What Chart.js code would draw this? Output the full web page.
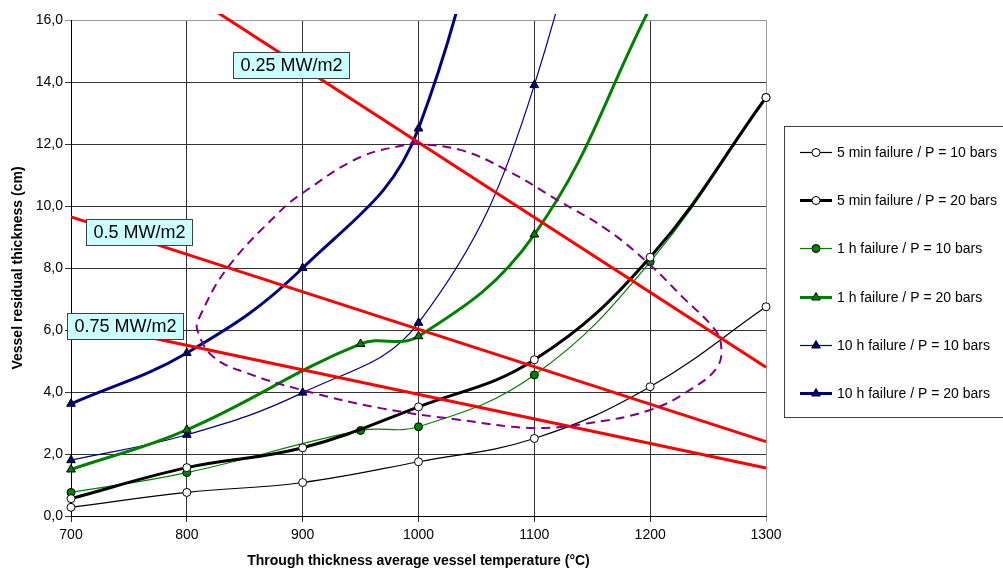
<!DOCTYPE html>
<html>
<head>
<meta charset="utf-8">
<script src="https://cdn.jsdelivr.net/npm/chart.js@4.4.1/dist/chart.umd.min.js"></script>
<style>
  body { margin: 0; background: #fff; }
  #wrap { width: 1003px; height: 572px; }
</style>
</head>
<body>
<div id="wrap"><canvas id="failure-chart" width="1003" height="572"></canvas></div>
<script>
// temperatures (°C)
const temps = [700, 800, 900, 1000, 1100, 1200, 1300]
const tempsOneHour = [700, 800, 950, 1000, 1100, 1200, 1300]

// residual thickness (cm) - last values of the steep curves are off the chart
const fiveMin10 = [0.28, 0.76, 1.08, 1.75, 2.5, 4.17, 6.75]
const fiveMin20 = [0.56, 1.56, 2.2, 3.52, 5.04, 8.35, 13.5]
const oneHour10 = [0.76, 1.4, 2.76, 2.88, 4.55, 8.2, 13.5]
const oneHour20 = [1.5, 2.78, 5.55, 5.8, 9.08, 16.4]
const tenHour10 = [1.8, 2.62, 3.98, 6.23, 13.9, 30]
const tenHour20 = [3.62, 5.26, 8.0, 12.5, 28]

// heat flux lines
const fluxLabels = ['0.25 MW/m2', '0.5 MW/m2', '0.75 MW/m2']
const fluxTemps = [700, 1300]
const flux025 = [19.3, 4.8]
const flux05 = [9.65, 2.4]
const flux075 = [6.3, 1.55]
const fluxLabelX = [840, 713, 696.5]
const fluxLabelY = [14.97, 9.58, 6.55]

// dashed region outline
const regionX = [995, 1036, 1076, 1120, 1163, 1200, 1228, 1254, 1261, 1258, 1234, 1200, 1148, 1099, 1036, 967, 900, 852, 823, 809, 811, 835, 880, 900, 950, 995]
const regionY = [12.03, 11.81, 11.16, 10.19, 9.23, 8.1, 7.06, 6.1, 5.58, 4.81, 4.06, 3.42, 3.0, 2.84, 3.1, 3.48, 4.06, 4.61, 5.13, 6.0, 6.42, 8.0, 9.81, 10.42, 11.58, 12.03]

const toPoints = (xs, ys) => ys.map((y, i) => ({ x: xs[i], y }))

const FONT = "'Liberation Sans', Arial, sans-serif"
Chart.defaults.font.family = FONT
Chart.defaults.color = '#000'

const overflow = { left: 8, top: 6, right: 8, bottom: 8 }

function failureSet(label, xs, ys, color, width, style, fill) {
  return {
    label,
    data: toPoints(xs, ys),
    borderColor: color,
    borderWidth: width,
    pointStyle: style,
    pointRadius: style === 'triangle' ? 5 : 4,
    pointBackgroundColor: fill,
    pointBorderColor: '#000',
    pointBorderWidth: 1,
    tension: 0.4,
    clip: overflow,
    order: 2
  }
}

const failureSets = [
  failureSet('5 min failure / P = 10 bars', temps, fiveMin10, '#000', 1.2, 'circle', '#fff'),
  failureSet('5 min failure / P = 20 bars', temps, fiveMin20, '#000', 3, 'circle', '#fff'),
  failureSet('1 h failure / P = 10 bars', tempsOneHour, oneHour10, '#008000', 1.2, 'circle', '#008000'),
  failureSet('1 h failure / P = 20 bars', tempsOneHour, oneHour20, '#008000', 3, 'triangle', '#008000'),
  failureSet('10 h failure / P = 10 bars', temps, tenHour10, '#000080', 1.2, 'triangle', '#000080'),
  failureSet('10 h failure / P = 20 bars', temps, tenHour20, '#000080', 3, 'triangle', '#000080')
]

const fluxSets = [flux025, flux05, flux075].map((ys, i) => ({
  label: fluxLabels[i],
  data: toPoints(fluxTemps, ys),
  borderColor: '#ff0000',
  borderWidth: 3,
  pointRadius: 0,
  clip: overflow,
  order: 1
}))

const regionSet = {
  label: 'region',
  data: toPoints(regionX, regionY),
  borderColor: '#800080',
  borderWidth: 2,
  borderDash: [9, 6],
  pointRadius: 0,
  tension: 0.4,
  order: 0
}

const fluxBoxes = {
  id: 'fluxBoxes',
  afterDatasetsDraw(chart) {
    const { ctx, scales: { x, y } } = chart
    ctx.save()
    ctx.font = `18px ${FONT}`
    ctx.textBaseline = 'middle'
    fluxLabels.forEach((text, i) => {
      const left = Math.round(x.getPixelForValue(fluxLabelX[i])) + 0.5
      const top = Math.round(y.getPixelForValue(fluxLabelY[i])) + 0.5
      const w = Math.round(ctx.measureText(text).width) + 14
      const h = 26
      ctx.fillStyle = '#ccffff'
      ctx.fillRect(left, top, w, h)
      ctx.strokeStyle = '#404040'
      ctx.lineWidth = 1
      ctx.strokeRect(left, top, w, h)
      ctx.fillStyle = '#000'
      ctx.fillText(text, left + 7, top + h / 2 + 1)
    })
    ctx.restore()
  }
}

const boxLegend = {
  id: 'boxLegend',
  afterDraw(chart) {
    const { ctx } = chart
    ctx.save()
    ctx.strokeStyle = '#404040'
    ctx.lineWidth = 1
    ctx.strokeRect(784.5, 126.5, 300, 291)
    ctx.font = `14px ${FONT}`
    ctx.textBaseline = 'middle'
    failureSets.forEach((ds, i) => {
      const yy = Math.round(152 + i * 48.2)
      ctx.strokeStyle = ds.borderColor
      ctx.lineWidth = ds.borderWidth
      ctx.beginPath()
      ctx.moveTo(800, yy + 0.5)
      ctx.lineTo(832, yy + 0.5)
      ctx.stroke()
      ctx.fillStyle = ds.pointBackgroundColor
      ctx.strokeStyle = '#000'
      ctx.lineWidth = 1
      Chart.helpers.drawPoint(ctx, {
        pointStyle: ds.pointStyle,
        radius: ds.pointRadius,
        borderWidth: 1,
        rotation: 0
      }, 816, yy + 0.5)
      ctx.fillStyle = '#000'
      ctx.fillText(ds.label, 837, yy + 1)
    })
    ctx.restore()
  }
}

const failureChart = new Chart(document.getElementById('failure-chart'), {
  type: 'line',
  data: {
    datasets: [...failureSets, ...fluxSets, regionSet]
  },
  options: {
    responsive: false,
    animation: false,
    devicePixelRatio: 1,
    layout: { padding: { left: 0, top: 20, right: 237, bottom: 0 } },
    plugins: {
      legend: { display: false },
      tooltip: { enabled: false }
    },
    scales: {
      x: {
        type: 'linear',
        min: 700,
        max: 1300,
        afterFit: (scale) => { scale.height = 56 },
        ticks: {
          stepSize: 100,
          font: { size: 14 },
          color: '#000',
          padding: 5,
          callback: (v) => String(v)
        },
        grid: {
          color: (c) => (c.tick && c.tick.value === 1300 ? '#999' : '#333'),
          tickLength: 6
        },
        border: { color: '#000' },
        title: {
          display: true,
          text: 'Through thickness average vessel temperature (°C)',
          font: { size: 14, weight: 'bold' },
          color: '#000',
          padding: { top: 0, bottom: 2 }
        }
      },
      y: {
        min: 0,
        max: 16,
        afterFit: (scale) => { scale.width = 71 },
        ticks: {
          stepSize: 2,
          font: { size: 14 },
          color: '#000',
          padding: 2,
          callback: (v) => v.toFixed(1).replace('.', ',')
        },
        grid: {
          color: (c) => (c.tick && c.tick.value === 16 ? '#999' : '#333'),
          tickLength: 6
        },
        border: { color: '#000' },
        title: {
          display: true,
          text: 'Vessel residual thickness (cm)',
          font: { size: 14, weight: 'bold' },
          color: '#000',
          padding: { top: 10, bottom: 0 }
        }
      }
    }
  },
  plugins: [fluxBoxes, boxLegend]
})
</script>
</body>
</html>
